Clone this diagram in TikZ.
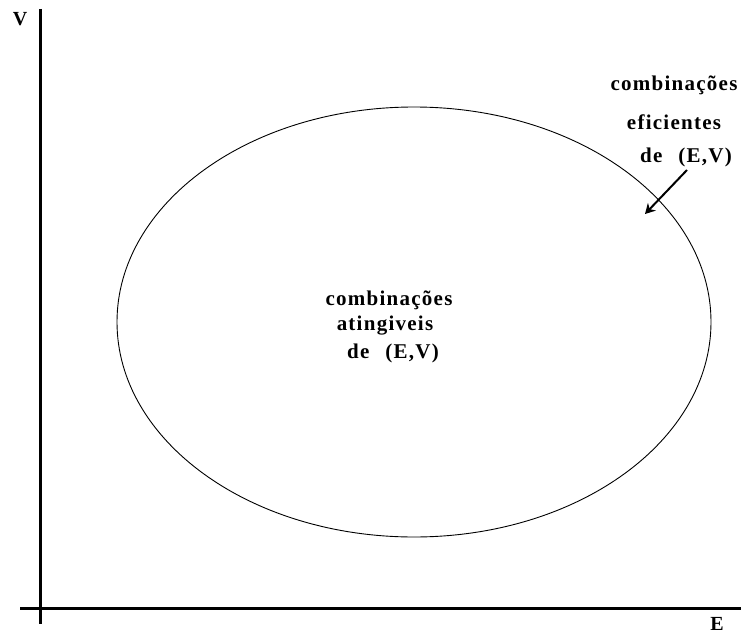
\documentclass[tikz,border=0pt]{standalone}
\usepackage{fontspec}
\setmainfont{Liberation Serif}
\newfontfamily\lblfont[LetterSpace=6]{Liberation Serif}
\usetikzlibrary{arrows.meta,shapes.geometric}
\tikzset{
  axis/.style={line width=3pt},
  curve/.style={line width=0.9pt},
  lbl/.style={inner sep=0pt, font=\lblfont\bfseries\fontsize{21}{23}\selectfont},
  axlbl/.style={inner sep=0pt, font=\bfseries\fontsize{20}{22}\selectfont},
  ptr/.style={line width=2pt, -{Stealth[length=10pt,width=11pt]}}
}
\begin{document}
\begin{tikzpicture}[x=1pt,y=-1pt]
\useasboundingbox (0,0) rectangle (741,634);
% axes
\coordinate (vtop) at (40,9);
\coordinate (vbot) at (40,624);
\coordinate (hleft) at (20,608);
\coordinate (hright) at (741,608);
\draw[axis] (vtop) -- (vbot);
\draw[axis] (hleft) -- (hright);
\node[axlbl] (vlabel) at (20,19) {V};
\node[axlbl, anchor=base] (elabel) at (717,630) {E};
% ellipse
\node[curve, draw, ellipse, minimum width=594pt, minimum height=430pt, inner sep=0pt] (ell) at (414,322) {};
% inner text
\node[lbl] (in1) at (389,300) {combinações};
\node[lbl] (in2) at (385,326) {atingiveis};
\node[lbl] (in3) at (393,353) {de\hspace{16pt}(E,V)};
% outer text
\node[lbl] (out1) at (674,85) {combinações};
\node[lbl] (out2) at (674,122) {eficientes};
\node[lbl] (out3) at (686,157) {de\hspace{16pt}(E,V)};
\coordinate (tail) at (687,170);
\coordinate (tip) at (645,214);
\draw[ptr] (tail) -- (tip);
\end{tikzpicture}
\end{document}
